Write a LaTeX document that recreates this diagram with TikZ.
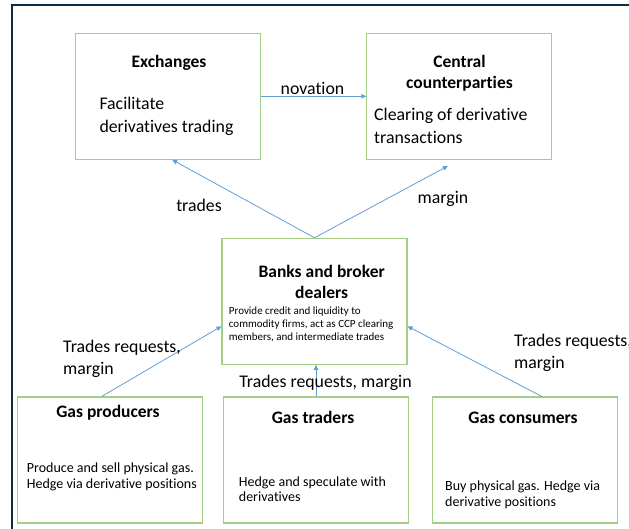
\documentclass[tikz,border=0pt]{standalone}
\usepackage{fontspec}
\setmainfont{Carlito}[Ligatures=NoCommon]
\usetikzlibrary{arrows.meta}

\definecolor{framenavy}{RGB}{16,42,68}
\definecolor{boxgreen}{RGB}{163,206,133}
\definecolor{linkblue}{RGB}{98,158,214}

\begin{document}
\begin{tikzpicture}[x=1pt, y=1pt,
  box/.style={draw=boxgreen, line width=1.1pt, minimum width=185pt, minimum height=126pt, inner sep=0pt},
  title/.style={font=\fontsize{17.5}{21.3}\selectfont\bfseries, align=center, inner sep=0pt},
  desc/.style={font=\fontsize{17.8}{23}\selectfont, align=left, anchor=west, inner sep=0pt},
  smalldesc/.style={font=\fontsize{11}{13.2}\selectfont, align=left, anchor=west, inner sep=0pt},
  gasdesc/.style={font=\fontsize{14}{15.8}\selectfont, align=left, anchor=west, inner sep=0pt},
  flowlabel/.style={font=\fontsize{17.8}{22}\selectfont, align=left, inner sep=0pt},
  link/.style={draw=linkblue, line width=0.8pt, -{Triangle[length=5pt,width=4.5pt]}}]
\useasboundingbox (0,0) rectangle (629,529);

% Frame
\draw[framenavy, line width=2pt] (11.5,-5) -- (11.5,524) -- (640,524);

% Top row
\node[box] (exch) at (168.2,432.7) {};
\node[box] (ccp) at (459.3,432.7) {};
\node[title] (exchtitle) at (169,466.5) {Exchanges};
\node[desc] (exchdesc) at (99.3,413) {Facilitate\\derivatives trading};
\node[title] (ccptitle) at (459.5,456) {Central\\counterparties};
\node[desc] (ccpdesc) at (374,403) {Clearing of derivative\\transactions};

% Banks in the middle
\node[box] (banks) at (314.5,227.7) {};
\node[title] (bankstitle) at (321.7,247) {Banks and broker\\dealers};
\node[smalldesc] (banksdesc) at (228.7,204.8) {Provide credit and liquidity to\\commodity firms, act as CCP clearing\\members, and intermediate trades};

% Bottom row
\node[box] (prod) at (109.7,69) {};
\node[box] (trad) at (316,69) {};
\node[box] (cons) at (525.3,69) {};
\node[title] (prodtitle) at (108,116.5) {Gas producers};
\node[title] (tradtitle) at (313,111.5) {Gas traders};
\node[title] (constitle) at (523,111.5) {Gas consumers};
\node[gasdesc] (proddesc) at (26.7,52.2) {Produce and sell physical gas.\\Hedge via derivative positions};
\node[gasdesc] (traddesc) at (238.7,39.8) {Hedge and speculate with\\derivatives};
\node[gasdesc] (consdesc) at (445,34.2) {Buy physical gas. Hedge via\\derivative positions};

% Flows
\draw[link] (exch.east) -- (ccp.west);
\node[flowlabel] (novation) at (312.5,440.5) {novation};
\draw[link] (banks.north) -- ([xshift=4pt]exch.south);
\draw[link, shorten >=13pt] (banks.north) -- (ccp.south);
\node[flowlabel] (trades) at (199,324) {trades};
\node[flowlabel] (margin) at (443,330) {margin};

\draw[link] ([xshift=-8pt]prod.north) -- ([yshift=-25pt]banks.west);
\draw[link] (trad.north) -- (trad.north |- banks.south);
\draw[link] ([xshift=16.4pt]cons.north) -- ([yshift=-25pt]banks.east);
\node[flowlabel, anchor=west] (prodflow) at (63,170) {Trades requests,\\margin};
\node[flowlabel] (tradflow) at (325.5,146.5) {Trades requests, margin};
\node[flowlabel, anchor=west] (consflow) at (514,175.7) {Trades requests,\\margin};

\end{tikzpicture}
\end{document}
